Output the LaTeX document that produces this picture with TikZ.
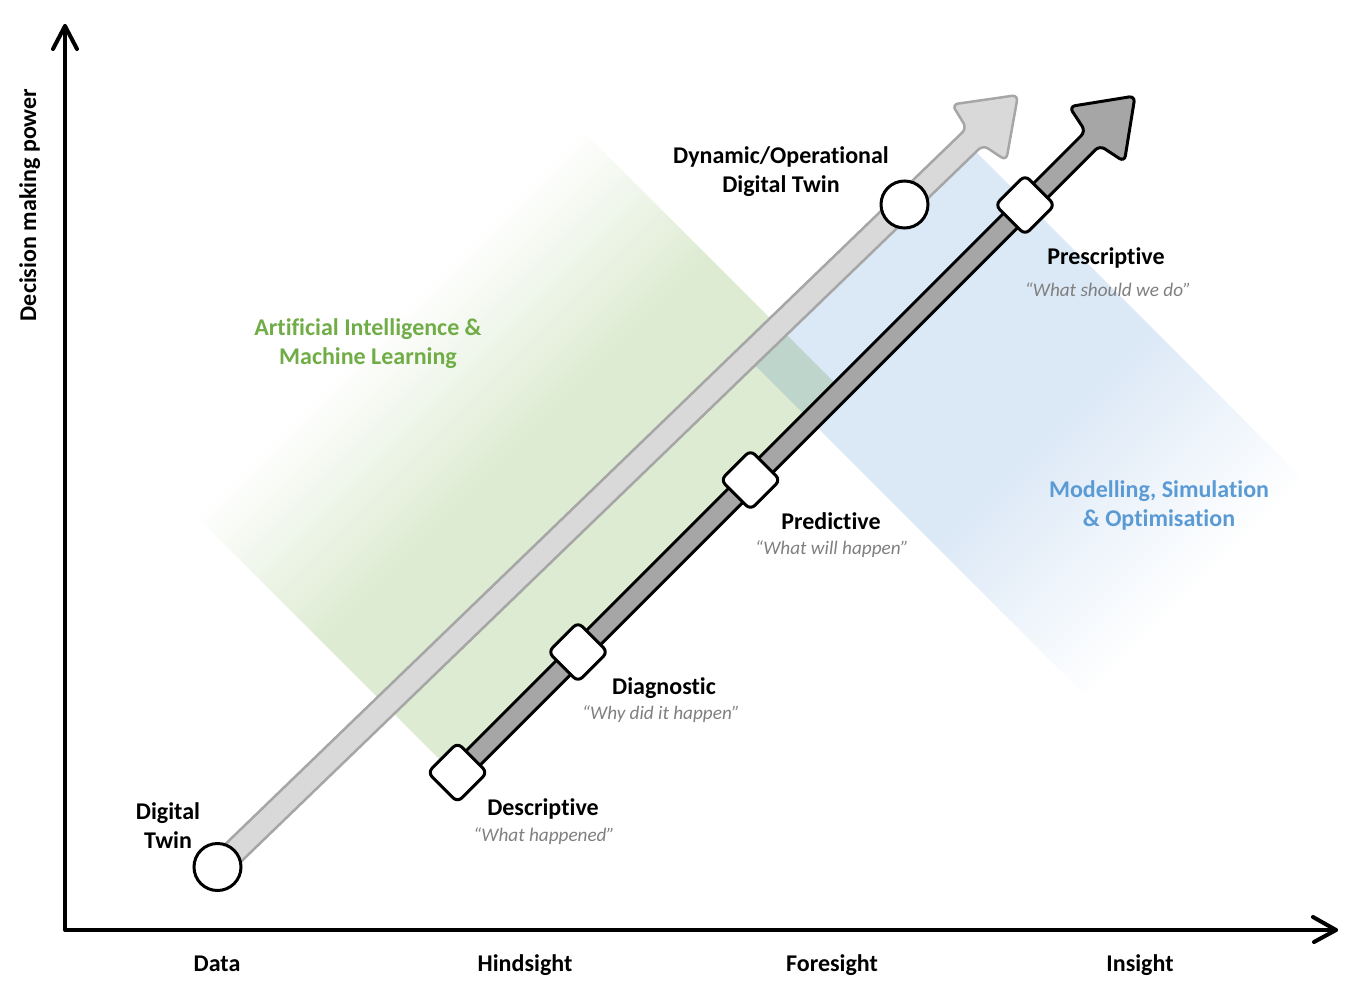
\documentclass[tikz,border=0pt]{standalone}
\usepackage{fontspec}
\setmainfont{Carlito}[Ligatures=NoCommon]
\definecolor{gband}{RGB}{221,235,210}
\definecolor{bband}{RGB}{219,232,246}
\definecolor{aigreen}{RGB}{112,173,71}
\definecolor{msblue}{RGB}{91,155,213}
\definecolor{qgray}{RGB}{127,127,127}
\definecolor{lightfill}{RGB}{217,217,217}
\definecolor{lightedge}{RGB}{166,166,166}
\definecolor{darkfill}{RGB}{166,166,166}
\pgfdeclarehorizontalshading{greenfade}{100bp}{color(0bp)=(white); color(25bp)=(white); color(50bp)=(gband); color(75bp)=(gband); color(100bp)=(gband)}
\pgfdeclarehorizontalshading{bluefade}{100bp}{color(0bp)=(bband); color(25bp)=(bband); color(51bp)=(bband); color(74bp)=(white); color(100bp)=(white)}
\begin{document}
\begin{tikzpicture}[x=1pt,y=-1pt,
  lbl/.style={font=\fontsize{24}{29}\selectfont\bfseries, align=center, inner sep=0pt},
  quote/.style={font=\fontsize{19.2}{23}\selectfont\itshape, text=qgray, inner sep=0pt},
  marker/.style={draw, line width=3pt, fill=white, rounded corners=6pt, minimum size=42pt, inner sep=0pt, rotate=45},
  twin/.style={circle, draw, line width=3pt, fill=white, minimum size=47pt, inner sep=0pt},
  axisline/.style={line width=4pt, line cap=round, line join=round},
  lightarrow/.style={fill=lightfill, draw=lightedge, line width=2.5pt, line join=round, rounded corners=6pt},
  darkarrow/.style={fill=darkfill, draw=black, line width=3pt, line join=round, rounded corners=6pt}]
\useasboundingbox (0,0) rectangle (1366,1004);

% background bands
\begin{scope}[transform canvas={rotate=-45}]
  \shade[x=1pt,y=1pt,shading=greenfade] (500.63,-226.27) rectangle (866.2,319.61);
\end{scope}
\begin{scope}[blend mode=multiply]
\begin{scope}[transform canvas={rotate=-45}]
  \shade[x=1pt,y=1pt,shading=bluefade] (791.96,275.77) rectangle (1272.8,582.66);
\end{scope}
\end{scope}

% key positions
\coordinate (lighttip) at (1018,95);
\coordinate (darktip) at (1135,96);
\coordinate (origin) at (65,930);
\coordinate (ytip) at (65,26);
\coordinate (xtip) at (1336,930);

% axes
\draw[axisline] (ytip) -- (origin) -- (xtip);
\draw[axisline] (53,49) -- (ytip) -- (77,49);
\draw[axisline] (1313,917) -- (xtip) -- (1314,942);

% light arrow (digital twin)
\begin{scope}[shift={(lighttip)}, rotate=44]
  \filldraw[lightarrow] (-1112.4,-11.75) -- (-60,-11.75) -- (-54,-39) -- (0,0) -- (-54,39) -- (-60,11.75) -- (-1112.4,11.75) -- cycle;
\end{scope}

% dark arrow (analytics)
\begin{scope}[shift={(darktip)}, rotate=45]
  \filldraw[darkarrow] (-957.4,-10) -- (-60,-10) -- (-54,-39) -- (0,0) -- (-54,39) -- (-60,10) -- (-957.4,10) -- cycle;
\end{scope}

% markers
\node[twin] (dt) at (217.5,867) {};
\node[twin] (dyn) at (904.5,204.5) {};
\node[marker] (desc) at (457.5,772.5) {};
\node[marker] (diag) at (578,652) {};
\node[marker] (pred) at (750.5,480) {};
\node[marker] (presc) at (1025,205) {};

% labels
\node[lbl] (dynlbl) at (781,172) {Dynamic/Operational\\Digital Twin};
\node[lbl] (dtlbl) at (168,826) {Digital\\Twin};
\node[lbl, text=aigreen] (ailbl) at (368,344) {Artificial Intelligence \&\\Machine Learning};
\node[lbl, text=msblue] (mslbl) at (1159,505) {Modelling, Simulation\\\& Optimisation};

\node[lbl, anchor=base] (presclbl) at (1106,264) {Prescriptive};
\node[quote, anchor=base] (prescq) at (1108,296) {“What should we do”};
\node[lbl, anchor=base] (predlbl) at (831,529) {Predictive};
\node[quote, anchor=base] (predq) at (832,554.5) {“What will happen”};
\node[lbl, anchor=base] (diaglbl) at (664,694) {Diagnostic};
\node[quote, anchor=base] (diagq) at (661,719.5) {“Why did it happen”};
\node[lbl, anchor=base] (desclbl) at (543,815) {Descriptive};
\node[quote, anchor=base] (descq) at (544,841.5) {“What happened”};

\node[lbl, anchor=base] (xdata) at (217,971) {Data};
\node[lbl, anchor=base] (xhind) at (525,971) {Hindsight};
\node[lbl, anchor=base] (xfore) at (832,971) {Foresight};
\node[lbl, anchor=base] (xins) at (1140,971) {Insight};
\node[lbl, anchor=base, rotate=90] (ylbl) at (36,205) {Decision making power};
\end{tikzpicture}
\end{document}
